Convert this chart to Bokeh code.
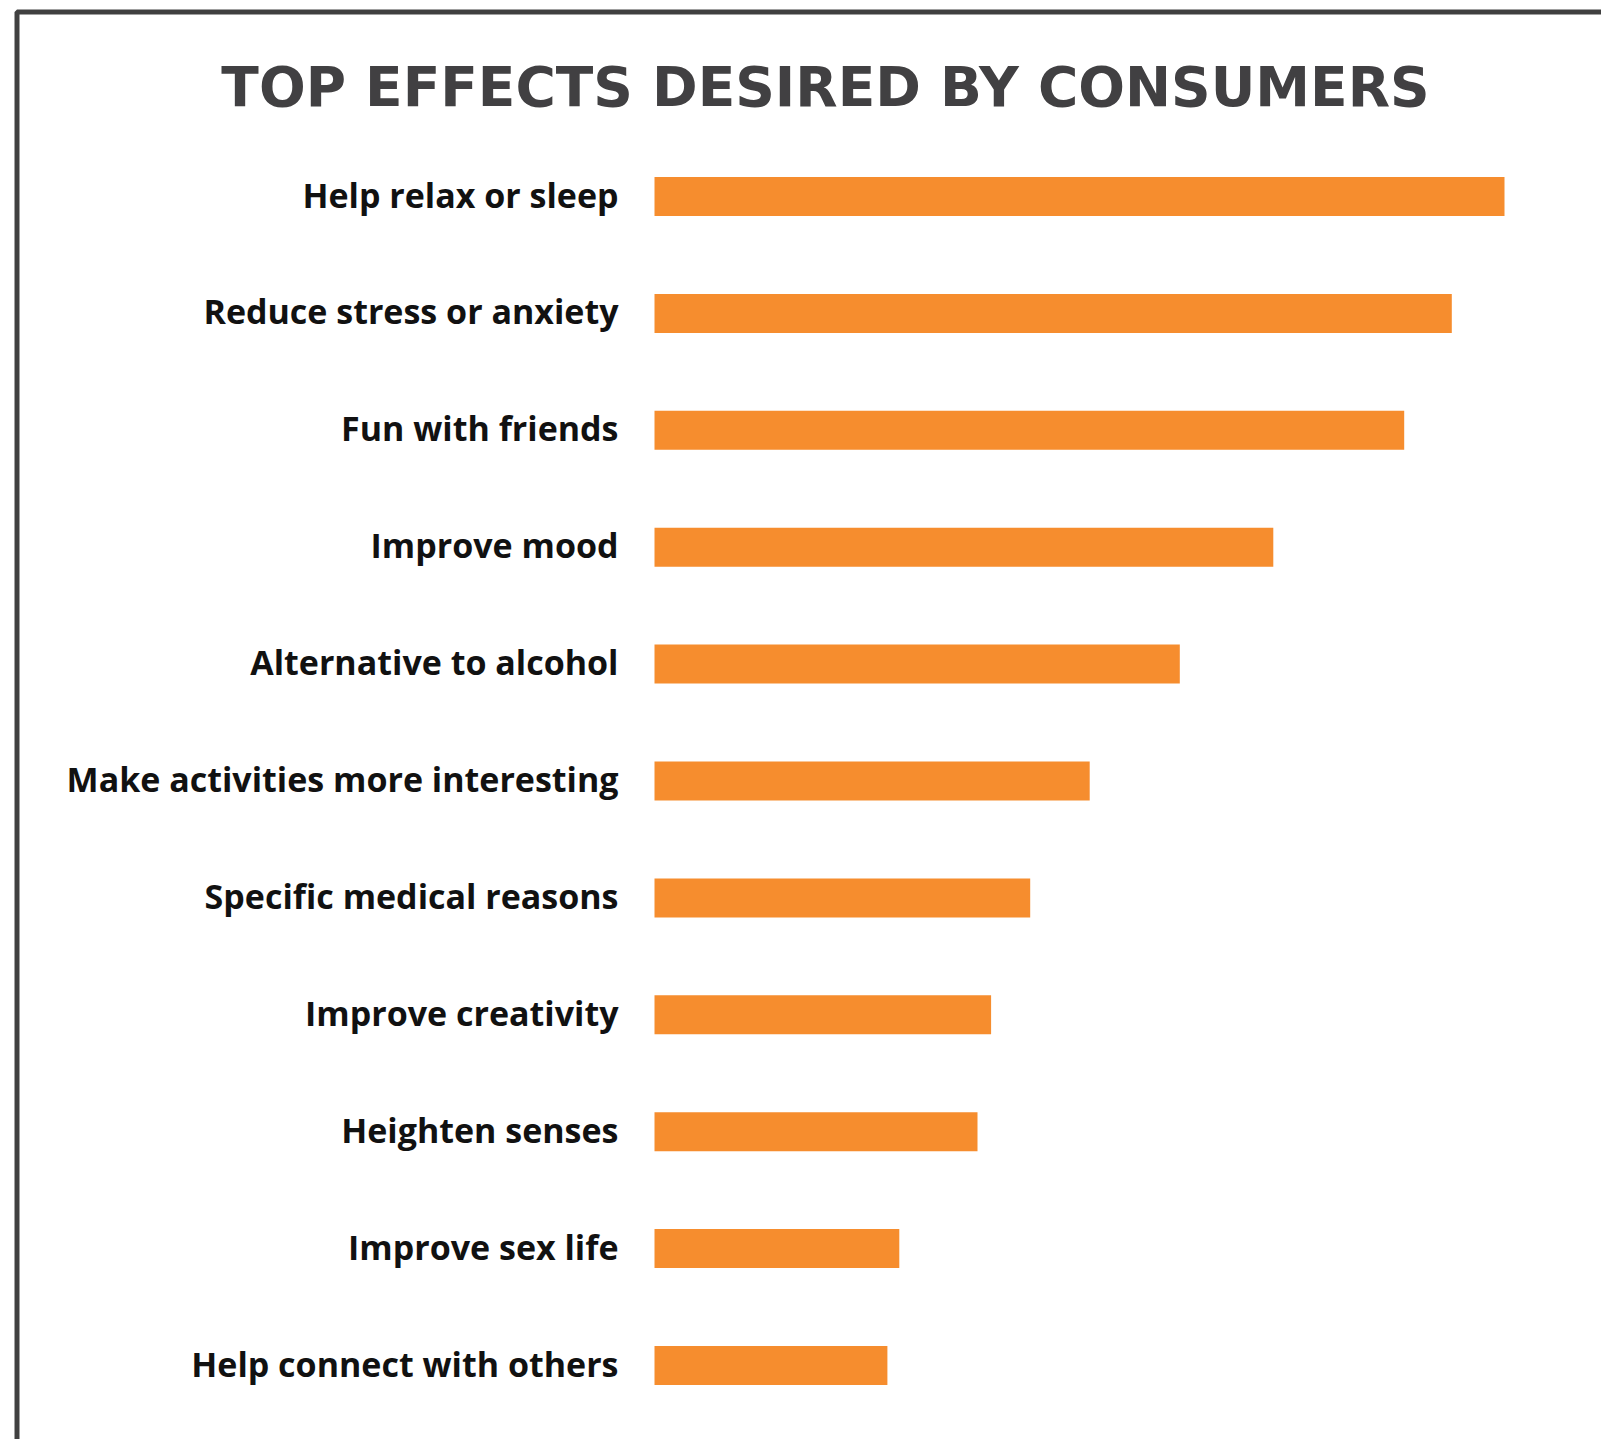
from bokeh.plotting import figure
from bokeh.models import Range1d, ColumnDataSource, Label, BoxAnnotation
from bokeh.core.properties import value
from bokeh.embed import file_html
from bokeh.resources import INLINE

title_text = "TOP EFFECTS DESIRED BY CONSUMERS"
categories = [
    "Help relax or sleep",
    "Reduce stress or anxiety",
    "Fun with friends",
    "Improve mood",
    "Alternative to alcohol",
    "Make activities more interesting",
    "Specific medical reasons",
    "Improve creativity",
    "Heighten senses",
    "Improve sex life",
    "Help connect with others",
]
values = [50.0, 46.9, 44.1, 36.4, 30.9, 25.6, 22.1, 19.8, 19.0, 14.4, 13.7]

W, H = 1601, 1439
PX_PER_UNIT = 17.0       # horizontal scale
BAR_X0 = 654.0           # pixel where bars start
ROW = 116.9              # pixel spacing of rows
TOP_CENTER = 196.0       # pixel of first row centre

n = len(categories)
ypos = [n - 1 - i for i in range(n)]

x_start = -BAR_X0 / PX_PER_UNIT
x_end = (W - BAR_X0) / PX_PER_UNIT
y_end = (n - 1) + TOP_CENTER / ROW
y_start = y_end - H / ROW

p = figure(width=W, height=H, output_backend="svg", toolbar_location=None,
           x_range=Range1d(x_start, x_end), y_range=Range1d(y_start, y_end),
           min_border=0, outline_line_color=None)
p.axis.visible = False
p.grid.visible = False
p.background_fill_color = "white"
p.border_fill_color = "white"

src = ColumnDataSource(dict(cat=categories, val=values, y=ypos,
                            lx=[-36.0 / PX_PER_UNIT] * n))

p.hbar(y="y", left=0, right="val", height=39.0 / ROW, source=src,
       fill_color="#F68D2E", line_color=None)

p.text(x="lx", y="y", text="cat", source=src, text_align="right",
       text_baseline="alphabetic", y_offset=-2,
       text_font=value("Open Sans"), text_font_style="bold",
       text_font_size="34px", text_color="#111111")

# title
p.add_layout(Label(x=(825 - BAR_X0) / PX_PER_UNIT, y=y_end - 86 / ROW,
                   text=title_text, text_align="center",
                   text_baseline="alphabetic",
                   text_font="DejaVu Sans", text_font_style="bold",
                   text_font_size="55px", text_color="#414042"))

# frame border (left and top visible)
p.add_layout(BoxAnnotation(left=x_start + 16.5 / PX_PER_UNIT, right=x_end + 5,
                           top=y_end - 11.5 / ROW, bottom=y_start - 5,
                           fill_alpha=0, line_color="#404040", line_alpha=1.0,
                           line_width=5))

open("out.html", "w").write(file_html(p, INLINE))
